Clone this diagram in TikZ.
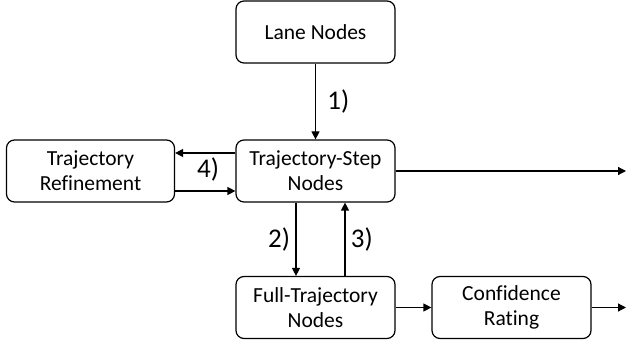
\documentclass[tikz,border=0pt]{standalone}
\usepackage{fontspec}
\setmainfont{Carlito}[Ligatures=NoCommon]
\usetikzlibrary{arrows.meta}
\begin{document}
\begin{tikzpicture}[x=1pt,y=1pt,
    box/.style={draw,rounded corners=8pt,line width=1.2pt,align=center,minimum width=159pt,minimum height=62pt,font=\fontsize{21.5}{25}\selectfont},
    lbl/.style={font=\fontsize{27}{30}\selectfont},
    arr/.style={-{Triangle[length=8pt,width=8pt]},line width=1.2pt}]
    \useasboundingbox(0,0)rectangle(626,345);
    \node[box](lane)at(315.5,313){Lane Nodes};
    \node[box](step)at(315.5,174){Trajectory-Step\\Nodes};
    \node[box,minimum width=168pt](refine)at(90.5,174){Trajectory\\Refinement};
    \node[box](full)at(315.5,37.5){Full-Trajectory\\Nodes};
    \node[box](conf)at(511.5,37.5){Confidence\\Rating};
    \coordinate(out1)at(626,174);
    \coordinate(out2)at(626,37.5);
    \draw[arr](lane)--(step)node[lbl,midway,right=8pt]{1)};
    \draw[arr]([yshift=18pt]step.west)--([yshift=18pt]refine.east);
    \draw[arr]([yshift=-20pt]refine.east)--([yshift=-20pt]step.west);
    \node[lbl]at(208,175){4)};
    \draw[arr]([xshift=-19.5pt]step.south)--([xshift=-19.5pt]full.north)node[lbl,midway,left=2pt]{2)};
    \draw[arr]([xshift=29.5pt]full.north)--([xshift=29.5pt]step.south)node[lbl,midway,right=2pt]{3)};
    \draw[arr](step)--(out1);
    \draw[arr](full)--(conf);
    \draw[arr](conf)--(out2);
\end{tikzpicture}
\end{document}
